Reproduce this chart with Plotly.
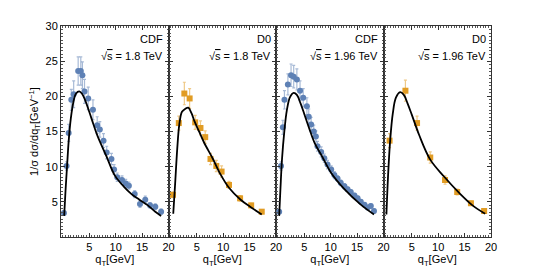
import plotly.graph_objects as go
from plotly.subplots import make_subplots

# ---------------- data ----------------
# Panel 1: CDF, sqrt(s)=1.8 TeV
cdf18_q = [0.2, 0.7, 1.1, 1.6, 2.05, 2.9, 3.4, 3.7, 4.1, 4.8, 5.7, 6.5, 7.0, 7.7, 8.3,
           9.2, 9.7, 10.3, 11.2, 11.9, 12.5, 13.6, 14.6, 15.6, 16.5, 17.5, 18.6]
cdf18_v = [3.4, 10.1, 14.8, 19.5, 20.3, 23.6, 23.6, 23.0, 20.7, 19.7, 18.1, 15.9, 15.3, 13.7, 12.0,
           11.1, 9.6, 8.5, 8.1, 7.6, 7.3, 6.1, 4.7, 5.3, 4.5, 4.3, 3.6]
cdf18_e = [0.3, 0.6, 1.2, 1.5, 1.9, 2.0, 2.0, 1.9, 1.7, 1.6, 1.4, 1.2, 1.1, 1.0, 0.9,
           0.8, 0.7, 0.6, 0.6, 0.6, 0.5, 0.5, 0.5, 0.5, 0.4, 0.4, 0.4]
cdf18_curve_q = [0.25, 0.5, 0.8, 1.1, 1.5, 2.0, 2.5, 3.1, 3.6, 4.2, 5.0, 5.8, 6.6, 8.3,
                 9.8, 11.5, 13.0, 14.5, 16.1, 17.5, 18.6]
cdf18_curve_v = [3.0, 6.5, 10.1, 13.6, 16.8, 19.2, 20.4, 20.7, 20.4, 19.5, 17.8, 16.0, 14.3, 11.4,
                 8.8, 7.2, 6.1, 5.3, 4.5, 3.6, 3.0]

# Panel 2: D0, sqrt(s)=1.8 TeV
d018_q = [0.5, 1.6, 2.65, 3.65, 4.7, 5.7, 6.6, 7.6, 8.7, 9.7, 11.1, 13.2, 15.3, 17.3]
d018_v = [6.0, 16.2, 20.4, 19.7, 16.3, 15.5, 14.2, 11.1, 10.1, 9.3, 7.4, 5.5, 4.5, 3.6]
d018_e = [0.4, 1.0, 1.6, 1.4, 1.0, 1.0, 0.9, 0.8, 0.8, 0.8, 0.5, 0.4, 0.3, 0.3]
d018_curve_q = [0.55, 0.9, 1.3, 1.7, 2.2, 2.8, 3.4, 4.0, 4.6, 5.5, 6.4, 8.0, 9.5, 11.1,
                13.3, 15.3, 17.3]
d018_curve_v = [3.3, 7.5, 12.5, 16.0, 17.8, 18.2, 18.4, 17.6, 16.4, 14.9, 13.4, 11.2, 8.9, 7.0,
                5.3, 4.2, 3.2]

# Panel 3: CDF, sqrt(s)=1.96 TeV
cdf196_q = [0.25, 0.6, 0.95, 1.25, 1.9, 2.5, 3.0, 3.6, 4.2, 4.8, 5.5, 5.85, 6.3, 6.8, 7.2,
            7.5, 8.2, 8.8, 9.4, 10.1, 10.7, 11.3, 11.9, 12.6, 13.2, 13.8, 14.5, 15.1,
            15.7, 16.4, 17.0, 17.6, 18.2]
cdf196_v = [3.6, 10.1, 15.6, 19.5, 21.7, 23.0, 22.8, 22.4, 20.8, 19.8, 18.6, 17.1, 16.0, 15.0, 14.3,
            12.9, 12.1, 11.2, 10.3, 9.6, 8.8, 8.3, 7.7, 7.2, 6.8, 6.4, 5.9, 5.5,
            5.0, 4.6, 4.2, 4.4, 3.7]
cdf196_e = [0.3, 0.6, 1.0, 1.3, 1.5, 1.6, 1.6, 1.5, 1.4, 1.3, 1.2, 1.1, 1.0, 0.9, 0.8,
            0.7, 0.7, 0.6, 0.6, 0.5, 0.5, 0.4, 0.4, 0.4, 0.3, 0.3, 0.3, 0.3,
            0.3, 0.3, 0.3, 0.3, 0.3]
cdf196_curve_q = [0.25, 0.5, 0.8, 1.2, 1.7, 2.3, 3.0, 3.6, 4.3, 5.0, 6.0, 7.0, 8.2, 10.1,
                  12.6, 15.7, 18.2]
cdf196_curve_v = [3.0, 7.0, 11.2, 14.8, 18.0, 19.9, 20.5, 20.2, 19.0, 17.5, 15.3, 13.3, 11.7, 9.1,
                  6.8, 4.6, 3.2]

# Panel 4: D0, sqrt(s)=1.96 TeV
d0196_q = [0.8, 3.8, 6.0, 8.5, 11.3, 13.6, 16.2, 18.7]
d0196_v = [13.7, 20.8, 16.2, 11.3, 8.1, 6.4, 4.8, 3.7]
d0196_e = [1.0, 1.5, 1.0, 0.8, 0.6, 0.4, 0.3, 0.3]
d0196_curve_q = [0.2, 0.5, 0.9, 1.4, 2.0, 2.8, 3.5, 4.2, 5.0, 6.4, 8.5, 11.1, 14.2, 16.5, 18.9]
d0196_curve_v = [3.2, 8.5, 13.6, 17.5, 19.8, 20.6, 20.2, 19.0, 17.4, 14.5, 11.0, 8.6, 6.1, 4.5, 3.3]

panel_experiments = ["CDF", "D0", "CDF", "D0"]
panel_energies = ["1.8", "1.8", "1.96", "1.96"]

x_tickvals = [5, 10, 15, 20]
y_tickvals = [5, 10, 15, 20, 25, 30]

BLUE = "#5E81B5"
BLUE_ERR = "rgba(94,129,181,0.55)"
ORANGE = "#E19C24"
ORANGE_ERR = "rgba(225,156,36,0.55)"

panels = [
    (cdf18_q, cdf18_v, cdf18_e, cdf18_curve_q, cdf18_curve_v, BLUE, BLUE_ERR, "circle"),
    (d018_q, d018_v, d018_e, d018_curve_q, d018_curve_v, ORANGE, ORANGE_ERR, "square"),
    (cdf196_q, cdf196_v, cdf196_e, cdf196_curve_q, cdf196_curve_v, BLUE, BLUE_ERR, "circle"),
    (d0196_q, d0196_v, d0196_e, d0196_curve_q, d0196_curve_v, ORANGE, ORANGE_ERR, "square"),
]

FONT = "Liberation Sans, Arial, sans-serif"

fig = make_subplots(rows=1, cols=4, shared_yaxes=True, horizontal_spacing=0)

for i, (q, v, e, cq, cv, col, ecol, sym) in enumerate(panels, start=1):
    fig.add_trace(go.Scatter(
        x=q, y=v, mode="markers",
        marker=dict(color=col, size=6, symbol=sym, line=dict(width=0)),
        error_y=dict(type="data", array=e, visible=True, color=ecol, thickness=1.2, width=1.5),
        showlegend=False, cliponaxis=False), row=1, col=i)
    fig.add_trace(go.Scatter(
        x=cq, y=cv, mode="lines", line=dict(color="black", width=1.8, shape="spline"),
        showlegend=False), row=1, col=i)

    fig.update_xaxes(
        range=[-0.35, 20], tickmode="array", tickvals=x_tickvals,
        ticks="inside", ticklen=4, tickwidth=1, tickcolor="#333",
        minor=dict(tickmode="linear", tick0=0, dtick=0.5, ticks="inside", ticklen=2, tickcolor="#555"),
        showline=True, linecolor="#333", linewidth=1, mirror="allticks",
        showgrid=False, zeroline=False,
        tickfont=dict(family=FONT, size=11, color="black"),
        title=dict(text="q<sub>T</sub>[GeV]", font=dict(family=FONT, size=11, color="black"), standoff=2),
        row=1, col=i)
    fig.update_yaxes(
        range=[0, 30], tickmode="array", tickvals=y_tickvals,
        ticks="inside", ticklen=4, tickwidth=1, tickcolor="#333",
        minor=dict(tickmode="linear", tick0=0, dtick=0.5, ticks="inside", ticklen=2, tickcolor="#555"),
        showline=True, linecolor="#333", linewidth=1, mirror="allticks",
        showgrid=False, zeroline=False,
        tickfont=dict(family=FONT, size=11, color="black"),
        row=1, col=i)

    xref = "x domain" if i == 1 else f"x{i} domain"
    yref = "y domain" if i == 1 else f"y{i} domain"
    fig.add_annotation(text=panel_experiments[i - 1], xref=xref, yref=yref, x=0.97, y=0.94,
                       xanchor="right", yanchor="middle", showarrow=False,
                       font=dict(family=FONT, size=11, color="black"))
    fig.add_annotation(text="√<span style='text-decoration:overline'>s</span> = " + panel_energies[i - 1] + " TeV",
                       xref=xref, yref=yref, x=0.97, y=0.86,
                       xanchor="right", yanchor="middle", showarrow=False,
                       font=dict(family=FONT, size=11, color="black"))

fig.update_yaxes(title=dict(text="1/σ dσ/dq<sub>T</sub>[GeV<sup>−1</sup>]",
                            font=dict(family=FONT, size=11, color="black"), standoff=4),
                 row=1, col=1)

fig.update_layout(
    width=538, height=267,
    margin=dict(l=53, r=55, t=12, b=28),
    paper_bgcolor="white", plot_bgcolor="white",
    font=dict(family=FONT, size=11, color="black"),
)

fig.write_html("out.html")
